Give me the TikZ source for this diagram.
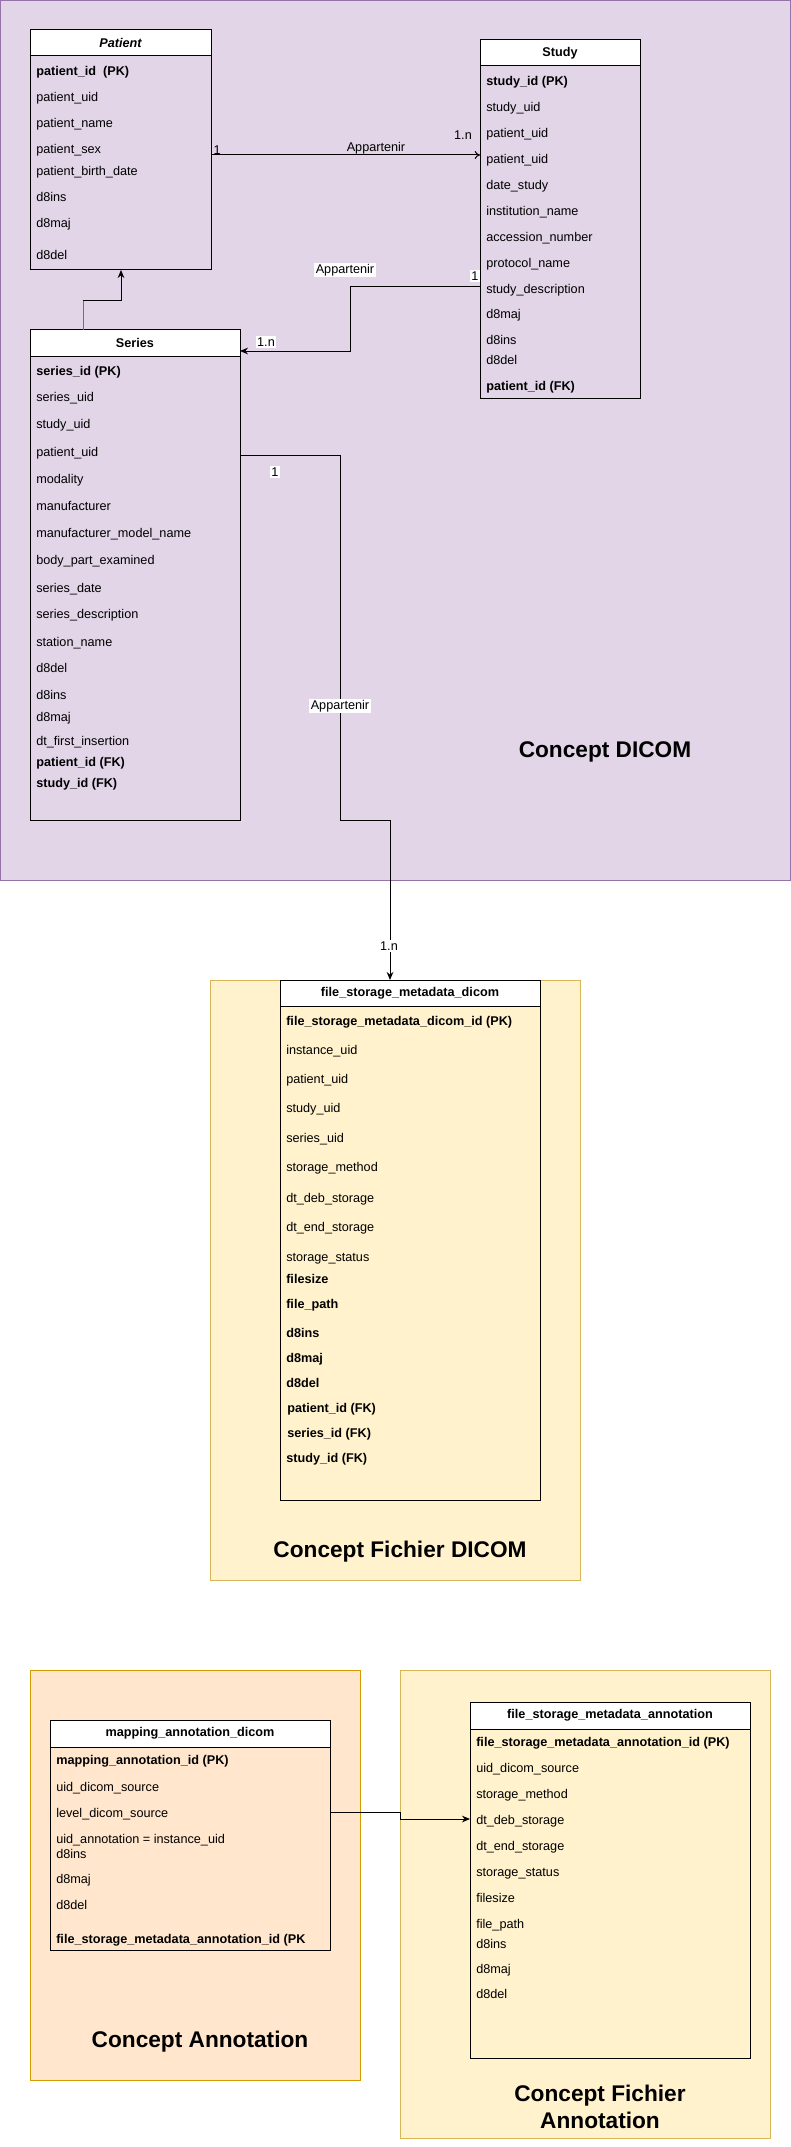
\documentclass[tikz,border=0pt]{standalone}
\usepackage{fontspec}
\setmainfont{Liberation Sans}
\usetikzlibrary{arrows.meta}

\definecolor{dicomfill}{HTML}{E1D5E7}
\definecolor{dicomline}{HTML}{9673A6}
\definecolor{filefill}{HTML}{FFF2CC}
\definecolor{fileline}{HTML}{D6B656}
\definecolor{annotfill}{HTML}{FFE6CC}
\definecolor{annotline}{HTML}{D79B00}

\tikzset{
	zone/.style={line width=0.75pt},
	tabhead/.style={draw, fill=white, line width=0.75pt, inner sep=0pt, outer sep=0pt, anchor=north west, font=\fontsize{9.5}{11}\selectfont\bfseries},
	tabbody/.style={draw, line width=0.75pt, inner sep=0pt, outer sep=0pt, anchor=north west},
	field/.style={anchor=base west, inner sep=0pt, font=\fontsize{9.5}{11}\selectfont},
	keyfield/.style={field, font=\fontsize{9.5}{11}\selectfont\bfseries},
	card/.style={inner sep=1pt, font=\fontsize{9.5}{11}\selectfont},
	concept/.style={font=\fontsize{17}{20}\selectfont\bfseries, align=center},
	link/.style={line width=0.75pt},
}

\begin{document}
\begin{tikzpicture}[x=0.75pt, y=-0.75pt]
			%%%%% START %%%%%
			\useasboundingbox (0,0) rectangle (791,2147);
			
			\draw[zone, fill=dicomfill, draw=dicomline] (0.5,0.5) rectangle (790.5,880);
			\draw[zone, fill=filefill, draw=fileline] (210,980) rectangle (580,1580);
			\draw[zone, fill=annotfill, draw=annotline] (30,1670) rectangle (360,2080);
			\draw[zone, fill=filefill, draw=fileline] (400,1670) rectangle (770,2138);
			
			\node[concept] (t-dicom) at (605,752) {Concept DICOM};
			\node[concept] (t-fdicom) at (400,1552) {Concept Fichier DICOM};
			\node[concept] (t-annot) at (200,2042) {Concept Annotation};
			\node[concept] (t-fannot) at (600,2107) {Concept Fichier\\Annotation};
			
			% Patient
			\node[tabhead, minimum width=135.75pt, minimum height=19.5pt] (patient) at (30,30) {\itshape Patient};
			\node[tabbody, minimum width=135.75pt, minimum height=160.5pt] (patient-body) at (patient.south west) {};
			\node[keyfield] (pat1) at (36,75.5) {patient\_id\ \ (PK)};
			\node[field] (pat2) at (36,101.5) {patient\_uid};
			\node[field] (pat3) at (36,127.5) {patient\_name};
			\node[field] (pat4) at (36,153.5) {patient\_sex};
			\node[field] (pat5) at (36,175.5) {patient\_birth\_date};
			\node[field] (pat6) at (36,201.5) {d8ins};
			\node[field] (pat7) at (36,227.5) {d8maj};
			\node[field] (pat8) at (36,259.5) {d8del};
			
			% Study
			\node[tabhead, minimum width=120pt, minimum height=19.5pt] (study) at (480,40) {Study};
			\node[tabbody, minimum width=120pt, minimum height=249pt] (study-body) at (study.south west) {};
			\node[keyfield] (stu1) at (486,85.5) {study\_id (PK)};
			\node[field] (stu2) at (486,111.5) {study\_uid};
			\node[field] (stu3) at (486,137.5) {patient\_uid};
			\node[field] (stu4) at (486,163.5) {patient\_uid};
			\node[field] (stu5) at (486,189.5) {date\_study};
			\node[field] (stu6) at (486,215.5) {institution\_name};
			\node[field] (stu7) at (486,241.5) {accession\_number};
			\node[field] (stu8) at (486,267.5) {protocol\_name};
			\node[field] (stu9) at (486,293.5) {study\_description};
			\node[field] (stu10) at (486,318.5) {d8maj};
			\node[field] (stu11) at (486,344.5) {d8ins};
			\node[field] (stu12) at (486,364.5) {d8del};
			\node[keyfield] (stu13) at (486,390.5) {patient\_id (FK)};
			
			% Series
			\node[tabhead, minimum width=157.5pt, minimum height=19.5pt] (series) at (30,330) {Series};
			\node[tabbody, minimum width=157.5pt, minimum height=348pt] (series-body) at (series.south west) {};
			\node[keyfield] (ser1) at (36,375.5) {series\_id (PK)};
			\node[field] (ser2) at (36,401.5) {series\_uid};
			\node[field] (ser3) at (36,428.5) {study\_uid};
			\node[field] (ser4) at (36,456.5) {patient\_uid};
			\node[field] (ser5) at (36,483.5) {modality};
			\node[field] (ser6) at (36,510.5) {manufacturer};
			\node[field] (ser7) at (36,537.5) {manufacturer\_model\_name};
			\node[field] (ser8) at (36,564.5) {body\_part\_examined};
			\node[field] (ser9) at (36,592.5) {series\_date};
			\node[field] (ser10) at (36,618.5) {series\_description};
			\node[field] (ser11) at (36,646.5) {station\_name};
			\node[field] (ser12) at (36,672.5) {d8del};
			\node[field] (ser13) at (36,699.5) {d8ins};
			\node[field] (ser14) at (36,721.5) {d8maj};
			\node[field] (ser15) at (36,745.5) {dt\_first\_insertion};
			\node[keyfield] (ser16) at (36,766.5) {patient\_id (FK)};
			\node[keyfield] (ser17) at (36,787.5) {study\_id (FK)};
			
			% file_storage_metadata_dicom
			\node[tabhead, minimum width=195pt, minimum height=19.5pt] (fsmd) at (280,980) {file\_storage\_metadata\_dicom};
			\node[tabbody, minimum width=195pt, minimum height=370.5pt] (fsmd-body) at (fsmd.south west) {};
			\node[keyfield] (fd1) at (286,1025.5) {file\_storage\_metadata\_dicom\_id (PK)};
			\node[field] (fd2) at (286,1054.5) {instance\_uid};
			\node[field] (fd3) at (286,1083.5) {patient\_uid};
			\node[field] (fd4) at (286,1112.5) {study\_uid};
			\node[field] (fd5) at (286,1142.5) {series\_uid};
			\node[field] (fd6) at (286,1171.5) {storage\_method};
			\node[field] (fd7) at (286,1202.5) {dt\_deb\_storage};
			\node[field] (fd8) at (286,1231.5) {dt\_end\_storage};
			\node[field] (fd9) at (286,1261.5) {storage\_status};
			\node[keyfield] (fd10) at (286,1283.5) {filesize};
			\node[keyfield] (fd11) at (286,1308.5) {file\_path};
			\node[keyfield] (fd12) at (286,1337.5) {d8ins};
			\node[keyfield] (fd13) at (286,1362.5) {d8maj};
			\node[keyfield] (fd14) at (286,1387.5) {d8del};
			\node[keyfield] (fd15) at (287,1412.5) {patient\_id (FK)};
			\node[keyfield] (fd16) at (287,1437.5) {series\_id (FK)};
			\node[keyfield] (fd17) at (286,1462.5) {study\_id (FK)};
			
			% mapping_annotation_dicom
			\node[tabhead, minimum width=210pt, minimum height=20.25pt] (mapping) at (50,1720) {mapping\_annotation\_dicom};
			\node[tabbody, minimum width=210pt, minimum height=152.25pt] (mapping-body) at (mapping.south west) {};
			\node[keyfield] (map1) at (56,1764.5) {mapping\_annotation\_id (PK)};
			\node[field] (map2) at (56,1791.5) {uid\_dicom\_source};
			\node[field] (map3) at (56,1817.5) {level\_dicom\_source};
			\node[field] (map4) at (56,1843.5) {uid\_annotation = instance\_uid};
			\node[field] (map5) at (56,1858.5) {d8ins};
			\node[field] (map6) at (56,1883.5) {d8maj};
			\node[field] (map7) at (56,1909.5) {d8del};
			\node[keyfield] (map8) at (56,1943.5) {file\_storage\_metadata\_annotation\_id (PK};
			
			% file_storage_metadata_annotation
			\node[tabhead, minimum width=210pt, minimum height=20.25pt] (fsma) at (470,1702) {file\_storage\_metadata\_annotation};
			\node[tabbody, minimum width=210pt, minimum height=246.75pt] (fsma-body) at (fsma.south west) {};
			\node[keyfield] (fa1) at (476,1746.5) {file\_storage\_metadata\_annotation\_id (PK)};
			\node[field] (fa2) at (476,1772.5) {uid\_dicom\_source};
			\node[field] (fa3) at (476,1798.5) {storage\_method};
			\node[field] (fa4) at (476,1824.5) {dt\_deb\_storage};
			\node[field] (fa5) at (476,1850.5) {dt\_end\_storage};
			\node[field] (fa6) at (476,1876.5) {storage\_status};
			\node[field] (fa7) at (476,1902.5) {filesize};
			\node[field] (fa8) at (476,1928.5) {file\_path};
			\node[field] (fa9) at (476,1948.5) {d8ins};
			\node[field] (fa10) at (476,1973.5) {d8maj};
			\node[field] (fa11) at (476,1998.5) {d8del};
			
			% links
			\draw[link, -{To[length=4pt,width=6pt]}] (patient-body.east |- 0,155) -- (study-body.west |- 0,155);
			\draw[link, -{Stealth[length=6pt,width=5pt]}] (study-body.west |- 0,287) -- (350,287) -- (350,351) -- (series.east |- 0,351);
			\draw[link, -{Stealth[length=6pt,width=5pt]}] (83,0 |- series.north) -- (83,301) -- (121,301) -- (121,0 |- patient-body.south);
			\draw[link, black!55] (83,0 |- series.north) -- (83,301);
			\draw[link, -{Stealth[length=6pt,width=5pt]}] (series-body.east |- 0,455) -- (340,455) -- (340,820) -- (390,820) -- (390,0 |- fsmd.north);
			\draw[link, -{Stealth[length=6pt,width=5pt]}] (mapping-body.east |- 0,1812) -- (400,1812) -- (400,1819) -- (fsma-body.west |- 0,1819);
			
			\node[card, anchor=base west] (c-pat) at (212,155) {1};
			\node[card] (l-pat) at (376,148) {Appartenir};
			\node[card] (c-stu) at (463,135) {1.n};
			
			\node[card, fill=white] (c-stu2) at (475,276) {1};
			\node[card, fill=white] (l-stu) at (345,270) {Appartenir};
			\node[card, fill=white] (c-ser) at (266,342) {1.n};
			
			\node[card, fill=white] (c-ser2) at (275,472) {1};
			\node[card, fill=white] (l-ser) at (340,706) {Appartenir};
			\node[card, fill=white] (c-fsmd) at (389,946) {1.n};
			
			%%%%% END %%%%%
\end{tikzpicture}
\end{document}
